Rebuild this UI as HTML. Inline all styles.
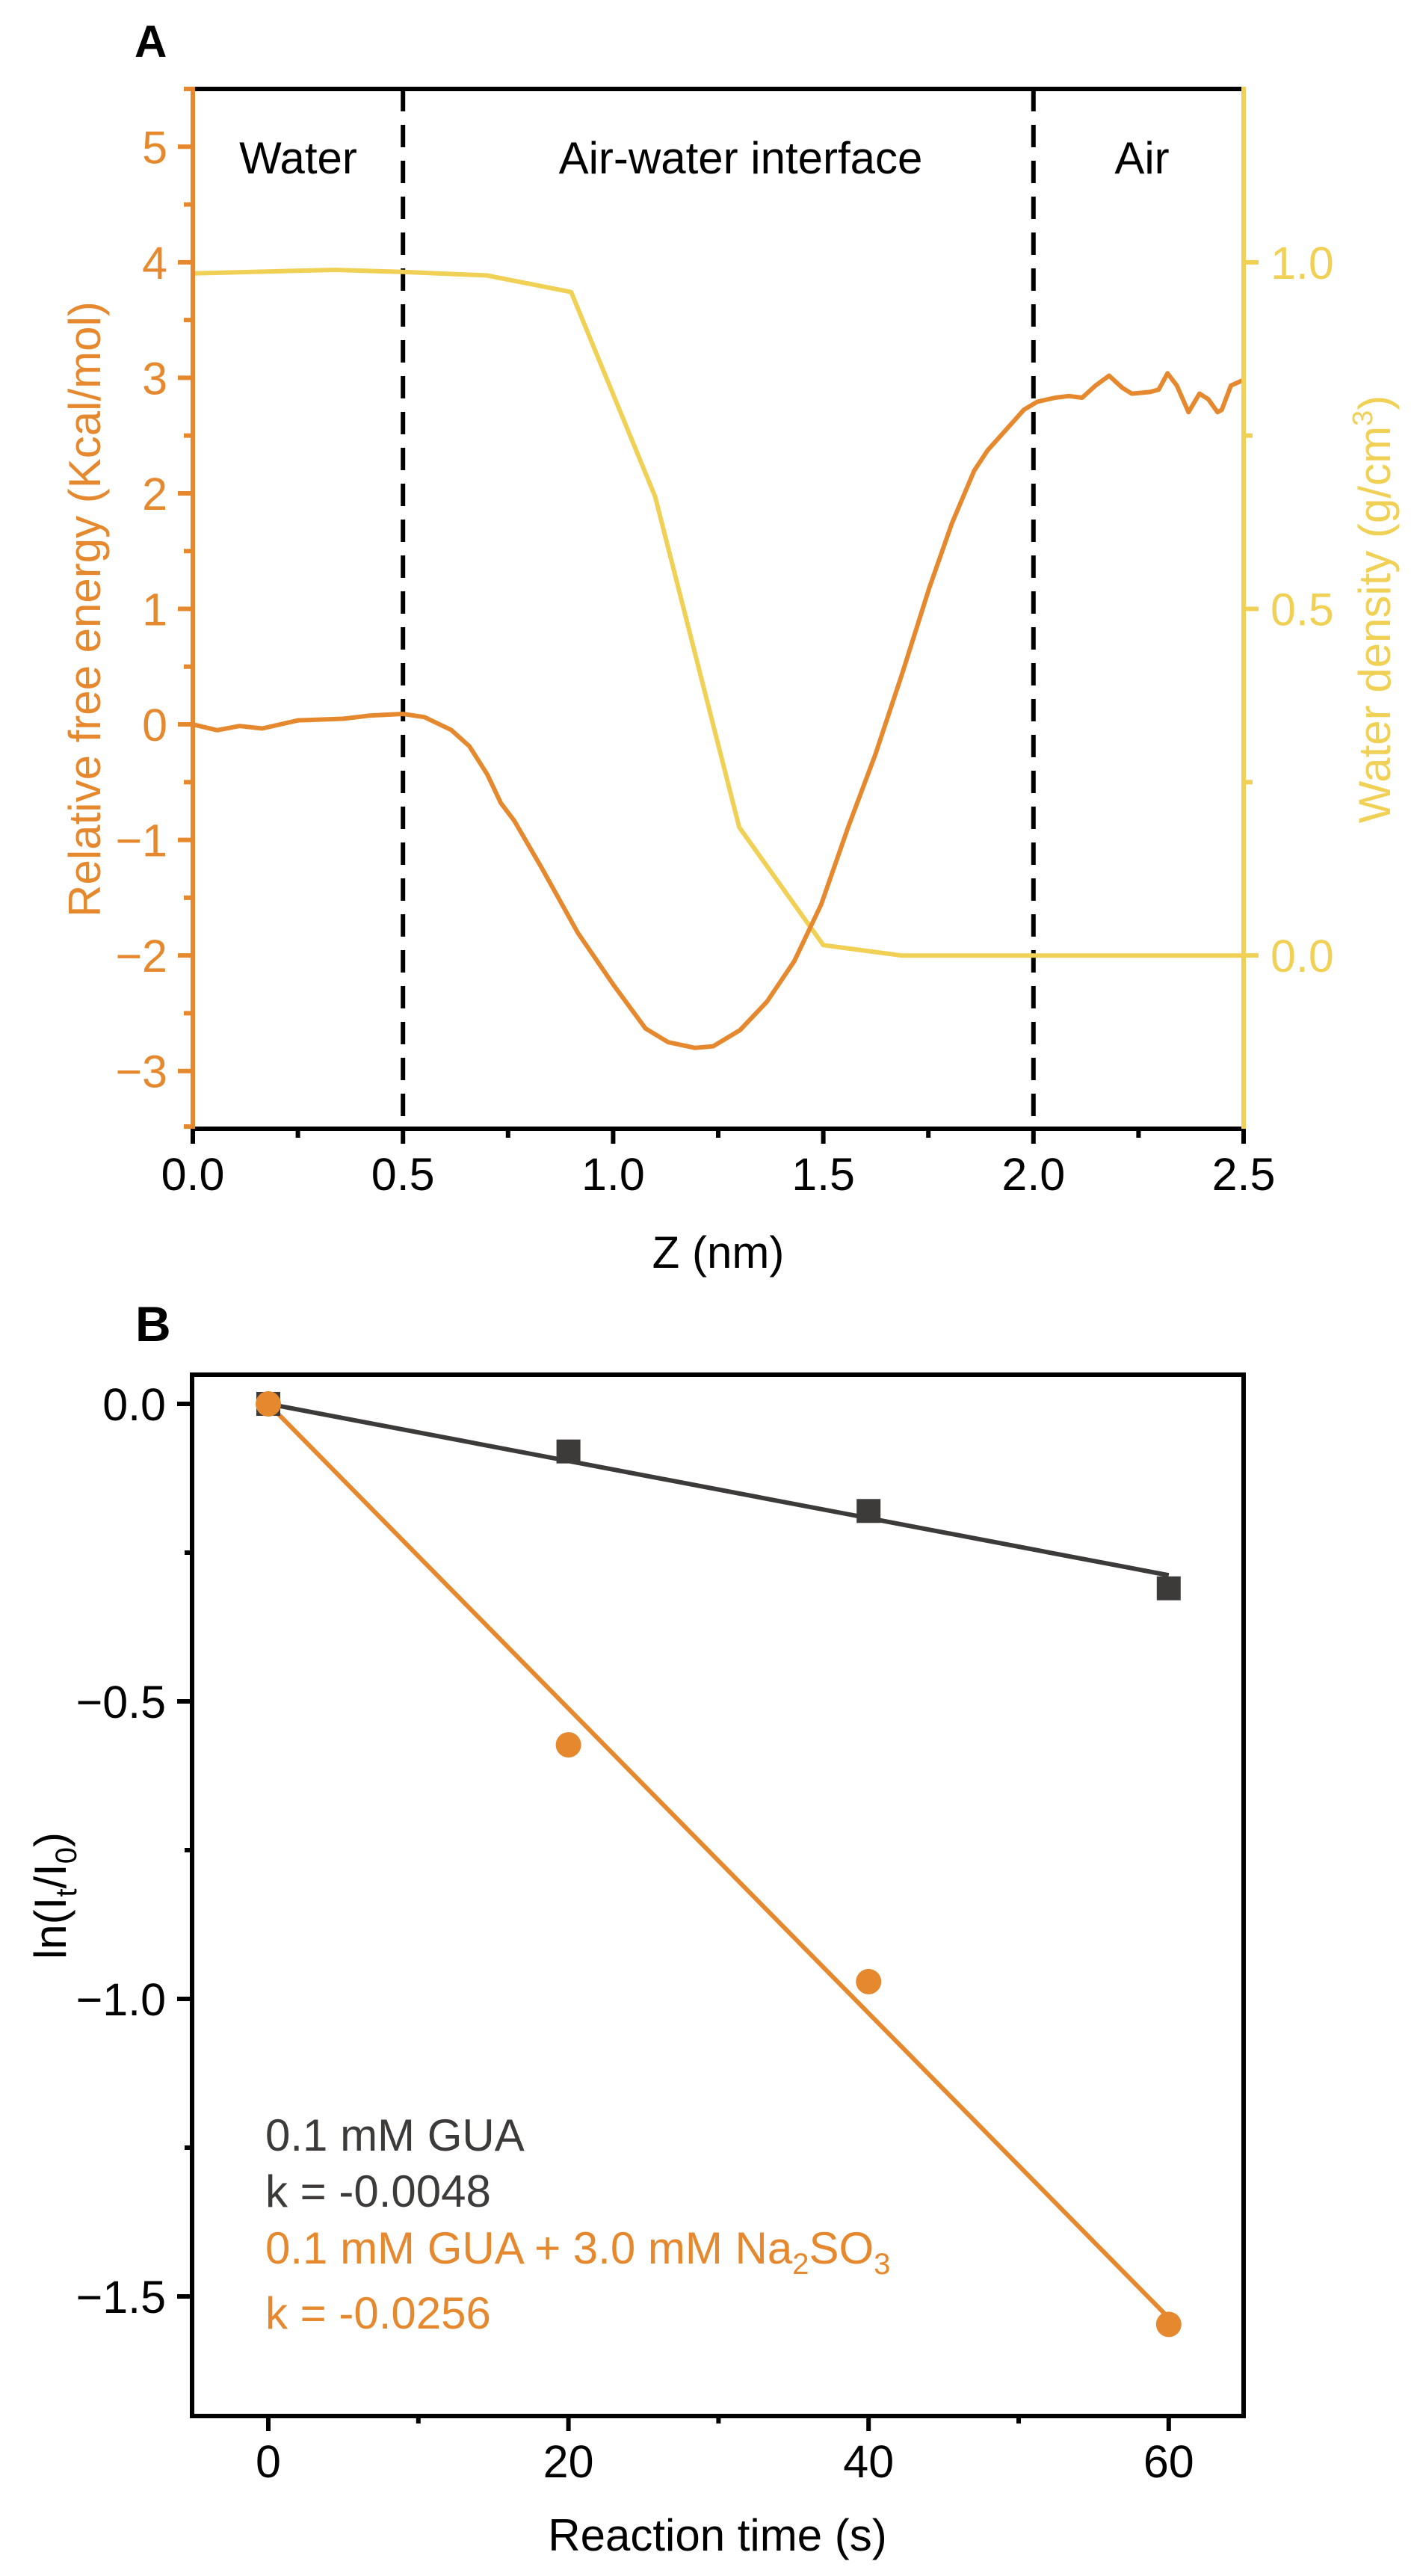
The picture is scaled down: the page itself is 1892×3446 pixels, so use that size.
<!DOCTYPE html>
<html><head><meta charset="utf-8">
<style>
html,body{margin:0;padding:0;background:#fff;}
svg{display:block;font-family:"Liberation Sans",Arial,sans-serif;}
</style></head>
<body>
<svg id="fig" width="1892" height="3446" viewBox="0 0 1892 3446" xmlns="http://www.w3.org/2000/svg">
<g id="pa"></g>
<g id="pb"></g>
</svg>
<script>
// ---------- Panel A data ----------
const energyZ = [0,0.058,0.111,0.165,0.251,0.358,0.422,0.5,0.551,0.615,0.658,0.701,0.733,0.765,0.83,0.916,1.002,1.077,1.131,1.195,1.238,1.302,1.366,1.431,1.495,1.559,1.624,1.688,1.752,1.806,1.859,1.891,1.934,1.977,2.009,2.052,2.084,2.116,2.148,2.18,2.212,2.234,2.277,2.298,2.319,2.341,2.369,2.395,2.416,2.438,2.448,2.47,2.5];
const energyVal = [0,-0.05,-0.014,-0.035,0.035,0.049,0.077,0.091,0.063,-0.049,-0.189,-0.435,-0.681,-0.835,-1.242,-1.804,-2.26,-2.632,-2.751,-2.8,-2.786,-2.646,-2.4,-2.049,-1.558,-0.891,-0.26,0.442,1.179,1.74,2.196,2.372,2.547,2.723,2.793,2.828,2.842,2.828,2.933,3.018,2.912,2.863,2.877,2.898,3.039,2.933,2.702,2.863,2.814,2.702,2.723,2.933,2.982];
const densityZ = [0,0.336,0.5,0.7,0.9,1.1,1.3,1.5,1.686,2.5];
const densityVal = [0.984,0.989,0.986,0.981,0.957,0.662,0.185,0.015,0,0];
const aXTicks = [0,0.5,1.0,1.5,2.0,2.5];
const aXTickLabels = ["0.0","0.5","1.0","1.5","2.0","2.5"];
const aYTicks = [-3,-2,-1,0,1,2,3,4,5];
const aYTickLabels = ["\u22123","\u22122","\u22121","0","1","2","3","4","5"];
const aY2Ticks = [0,0.5,1.0];
const aY2TickLabels = ["0.0","0.5","1.0"];
const regionBounds = [0.5,2.0];
// ---------- Panel B data ----------
const timeS = [0,20,40,60];
const guaVals = [0,-0.08,-0.18,-0.31];
const guaSO3Vals = [0,-0.573,-0.971,-1.547];
const slopes = [-0.0048,-0.0256];
const bXTicks = [0,20,40,60];
const bXTickLabels = ["0","20","40","60"];
const bYTicks = [0,-0.5,-1.0,-1.5];
const bYTickLabels = ["0.0","\u22120.5","\u22121.0","\u22121.5"];

const NS="http://www.w3.org/2000/svg";
function mk(parent,tag,attrs,text){const e=document.createElementNS(NS,tag);for(const k in attrs)e.setAttribute(k,attrs[k]);if(text!==undefined)e.textContent=text;parent.appendChild(e);return e;}
const ORANGE="#e6892e", YELLOW="#f0d055", DARK="#3d3a3a";

// ===== Panel A =====
(function(){
const g=document.getElementById('pa');
const L=258,R=1664,T=119,B=1510;
const x=v=>L+(v-0)/2.5*(R-L);
const y=v=>T+(5.5-v)/9*(B-T);
const y2=v=>T+(1.25-v)/1.5*(B-T);
let t=mk(g,'text',{x:180,y:76,'font-size':60,'font-weight':'bold',fill:'#000'},'A');

regionBounds.forEach(b=>{const l=mk(g,'line',{x1:x(b),x2:x(b),y1:T,y2:B,stroke:'#000','stroke-width':6,'stroke-dasharray':'30,18'});
});
[["Water",399],["Air-water interface",991],["Air",1528]].forEach(r=>{const e=mk(g,'text',{x:r[1],y:232,'font-size':60,'text-anchor':'middle',fill:'#000'},r[0]);
});
let pd=densityZ.map((v,i)=>(i?'L':'M')+x(v).toFixed(1)+','+y2(densityVal[i]).toFixed(1)).join('');
let p=mk(g,'path',{d:pd,fill:'none',stroke:YELLOW,'stroke-width':6,'stroke-linejoin':'round'});

let pe=energyZ.map((v,i)=>(i?'L':'M')+x(v).toFixed(1)+','+y(energyVal[i]).toFixed(1)).join('');
p=mk(g,'path',{d:pe,fill:'none',stroke:ORANGE,'stroke-width':6,'stroke-linejoin':'round'});

let f=mk(g,'line',{x1:L,x2:R,y1:T,y2:T,stroke:'#000','stroke-width':6});

f=mk(g,'line',{x1:L-3,x2:R+3,y1:B,y2:B,stroke:'#000','stroke-width':6});

f=mk(g,'line',{x1:L,x2:L,y1:T-3,y2:B+3,stroke:ORANGE,'stroke-width':6});

f=mk(g,'line',{x1:R,x2:R,y1:T-3,y2:B+3,stroke:YELLOW,'stroke-width':6});

aXTicks.forEach((v,i)=>{mk(g,'line',{x1:x(v),x2:x(v),y1:B,y2:B+20,stroke:'#000','stroke-width':6});
const e=mk(g,'text',{x:x(v),y:1592,'font-size':61,'text-anchor':'middle',fill:'#000'},aXTickLabels[i]);

if(i<aXTicks.length-1){const m=(v+aXTicks[i+1])/2;mk(g,'line',{x1:x(m),x2:x(m),y1:B,y2:B+12,stroke:'#000','stroke-width':6});}});
aYTicks.forEach((v,i)=>{mk(g,'line',{x1:L-20,x2:L,y1:y(v),y2:y(v),stroke:ORANGE,'stroke-width':6});
mk(g,'line',{x1:L-12,x2:L,y1:y(v+0.5),y2:y(v+0.5),stroke:ORANGE,'stroke-width':6});
const e=mk(g,'text',{x:224,y:y(v)+22,'font-size':61,'text-anchor':'end',fill:ORANGE},aYTickLabels[i]);
});
mk(g,'line',{x1:L-12,x2:L,y1:y(-3.5)-3,y2:y(-3.5)-3,stroke:ORANGE,'stroke-width':6});
aY2Ticks.forEach((v,i)=>{mk(g,'line',{x1:R,x2:R+20,y1:y2(v),y2:y2(v),stroke:YELLOW,'stroke-width':6});
const e=mk(g,'text',{x:1700,y:y2(v)+22,'font-size':61,'text-anchor':'start',fill:YELLOW},aY2TickLabels[i]);
});
[0.25,0.75].forEach(v=>mk(g,'line',{x1:R,x2:R+12,y1:y2(v),y2:y2(v),stroke:YELLOW,'stroke-width':6}));
let e=mk(g,'text',{x:961,y:1696,'font-size':60,'text-anchor':'middle',fill:'#000'},'Z (nm)');

e=mk(g,'text',{x:0,y:0,'font-size':60,'text-anchor':'middle',fill:ORANGE,transform:'translate(134,815) rotate(-90)'},'Relative free energy (Kcal/mol)');

e=mk(g,'text',{x:0,y:0,'font-size':60,'text-anchor':'middle',fill:YELLOW,transform:'translate(1860,815) rotate(-90)'});

e.appendChild(document.createTextNode('Water density (g/cm'));
mk(e,'tspan',{'font-size':38,dy:-24},'3');
mk(e,'tspan',{dy:24},')');
})();

// ===== Panel B =====
(function(){
const g=document.getElementById('pb');
const L=257,R=1664,T=1839,B=3232;
const x=v=>359+v*20.08;
const y=v=>1878-v*796;
let t=mk(g,'text',{x:181,y:1794,'font-size':66,'font-weight':'bold',fill:'#000'},'B');

let f=mk(g,'rect',{x:L,y:T,width:R-L,height:B-T,fill:'none',stroke:'#000','stroke-width':6});

bXTicks.forEach((v,i)=>{mk(g,'line',{x1:x(v),x2:x(v),y1:B,y2:B+20,stroke:'#000','stroke-width':6});
const e=mk(g,'text',{x:x(v),y:3314,'font-size':61,'text-anchor':'middle',fill:'#000'},bXTickLabels[i]);

if(i<bXTicks.length-1){const m=v+10;mk(g,'line',{x1:x(m),x2:x(m),y1:B,y2:B+10,stroke:'#000','stroke-width':6});}});
bYTicks.forEach((v,i)=>{mk(g,'line',{x1:L-20,x2:L,y1:y(v),y2:y(v),stroke:'#000','stroke-width':6});
if(i<bYTicks.length-1)mk(g,'line',{x1:L-10,x2:L,y1:y(v-0.25),y2:y(v-0.25),stroke:'#000','stroke-width':6});
const e=mk(g,'text',{x:222,y:y(v)+22,'font-size':61,'text-anchor':'end',fill:'#000'},bYTickLabels[i]);
});
const cols=[DARK,ORANGE];
slopes.forEach((k,i)=>{const l=mk(g,'line',{x1:x(timeS[0]),y1:y(k*timeS[0]),x2:x(timeS[timeS.length-1]),y2:y(k*timeS[timeS.length-1]),stroke:cols[i],'stroke-width':6});
});
timeS.forEach((v,i)=>{const s=mk(g,'rect',{x:x(v)-16,y:y(guaVals[i])-16,width:32,height:32,fill:DARK});
});
timeS.forEach((v,i)=>{const c=mk(g,'circle',{cx:x(v),cy:y(guaSO3Vals[i]),r:17,fill:ORANGE});
});
let e=mk(g,'text',{x:355,y:2877,'font-size':60,fill:DARK},'0.1 mM GUA');

e=mk(g,'text',{x:355,y:2952,'font-size':60,fill:DARK},'k = -0.0048');

e=mk(g,'text',{x:355,y:3028,'font-size':60,fill:ORANGE});

e.appendChild(document.createTextNode('0.1 mM GUA + 3.0 mM Na'));
mk(e,'tspan',{'font-size':40,dy:14},'2');
mk(e,'tspan',{dy:-14},'SO');
mk(e,'tspan',{'font-size':40,dy:14},'3');
e=mk(g,'text',{x:355,y:3115,'font-size':60,fill:ORANGE},'k = -0.0256');

e=mk(g,'text',{x:960,y:3412,'font-size':60,'text-anchor':'middle',fill:'#000'},'Reaction time (s)');

e=mk(g,'text',{x:0,y:0,'font-size':60,'text-anchor':'middle',fill:'#000',transform:'translate(88,2536) rotate(-90)'});

e.appendChild(document.createTextNode('ln(I'));
mk(e,'tspan',{'font-size':40,dy:14},'t');
mk(e,'tspan',{dy:-14},'/I');
mk(e,'tspan',{'font-size':40,dy:14},'0');
mk(e,'tspan',{dy:-14},')');
})();
</script>
</body></html>
